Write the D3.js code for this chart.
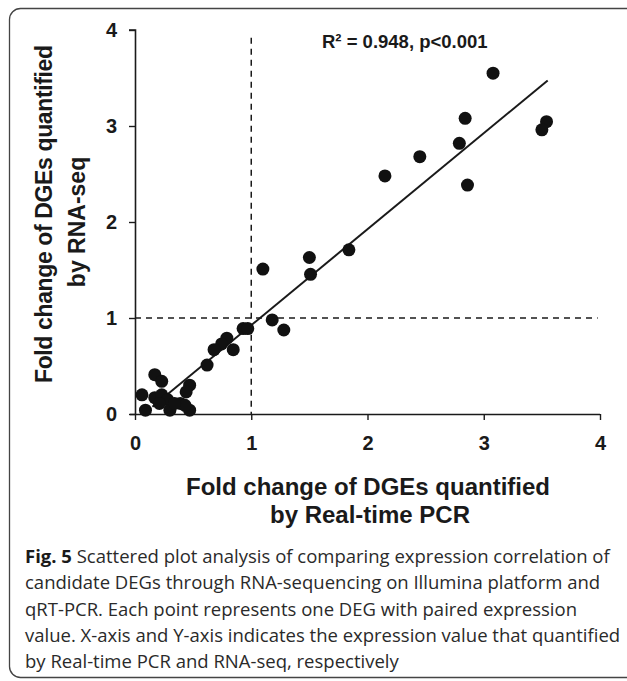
<!DOCTYPE html>
<html>
<head>
<meta charset="utf-8">
<script src="https://cdn.jsdelivr.net/npm/d3@7"></script>
<style>
  body { margin: 0; background: #fff; }
  svg { display: block; }
</style>
</head>
<body>
<svg id="chart" width="627" height="681"></svg>
<script>
// qRT-PCR fold change (x) vs RNA-seq fold change (y)
let pcrValues = [3.08, 2.84, 2.79, 2.45, 2.15, 2.86, 3.54, 3.50,
                 1.10, 1.50, 1.51, 1.84, 1.18, 1.28, 0.93, 0.97,
                 0.79, 0.745, 0.845, 0.68, 0.62,
                 0.47, 0.44, 0.17, 0.23, 0.06, 0.09, 0.17, 0.23, 0.28, 0.30,
                 0.39, 0.47, 0.43, 0.21, 0.34]
let seqValues = [3.55, 3.08, 2.82, 2.68, 2.48, 2.385, 3.045, 2.96,
                 1.51, 1.63, 1.455, 1.71, 0.98, 0.875, 0.89, 0.89,
                 0.79, 0.73, 0.67, 0.67, 0.51,
                 0.30, 0.23, 0.41, 0.34, 0.20, 0.04, 0.17, 0.20, 0.15, 0.04,
                 0.11, 0.04, 0.09, 0.11, 0.11]

let tickValues = [0, 1, 2, 3, 4]
let fitSlope = 1.0
let fitIntercept = -0.075
let fitRange = [0.15, 3.55]
let cutoff = 1

let statLabel = "R\u00B2 = 0.948,  p<0.001"
let xTitle = ["Fold change of DGEs quantified", "by Real-time PCR"]
let yTitle = ["Fold change of DGEs quantified", "by RNA-seq"]
let captionBold = "Fig. 5"
let captionLines = [
    " Scattered plot analysis of comparing expression correlation of",
    "candidate DEGs through RNA-sequencing on Illumina platform and",
    "qRT-PCR. Each point represents one DEG with paired expression",
    "value. X-axis and Y-axis indicates the expression value that quantified",
    "by Real-time PCR and RNA-seq, respectively"
]

let svg = d3.select("#chart")
let ink = "#1a1a1a"

// panel frame, right side runs off the page
svg.append("rect")
    .attr("x", 9.5).attr("y", 8.5)
    .attr("width", 660).attr("height", 669)
    .attr("rx", 11)
    .attr("fill", "none")
    .attr("stroke", "#444")
    .attr("stroke-width", 1.3)

let x = d3.scaleLinear().domain([0, 4]).range([135, 600])
let y = d3.scaleLinear().domain([0, 4]).range([414, 30])

// axes
let xAxis = svg.append("g")
    .attr("transform", "translate(0," + y(0) + ")")
    .call(d3.axisBottom(x).tickValues(tickValues).tickFormat(d3.format("d"))
        .tickSize(6).tickPadding(16).tickSizeOuter(0))
let yAxis = svg.append("g")
    .attr("transform", "translate(" + x(0) + ",0)")
    .call(d3.axisLeft(y).tickValues(tickValues).tickFormat(d3.format("d"))
        .tickSize(6).tickPadding(12).tickSizeOuter(0))

for (let ax of [xAxis, yAxis]) {
    ax.select(".domain").attr("stroke", ink).attr("stroke-width", 1.6)
    ax.selectAll(".tick line").attr("stroke", ink).attr("stroke-width", 1.4)
    ax.selectAll(".tick text")
        .attr("fill", ink)
        .style("font-family", "'Liberation Sans', Arial, sans-serif")
        .style("font-weight", "bold")
        .style("font-size", "20px")
}
// x axis line starts a little left of the origin
xAxis.select(".domain").attr("d", "M" + (x(0) - 5) + ",0.5H" + x(4))
yAxis.select(".domain").attr("d", "M-6," + y(4) + "H0.5V" + y(0))

// cutoff guides
svg.append("line")
    .attr("x1", x(cutoff)).attr("x2", x(cutoff))
    .attr("y1", y(3.92)).attr("y2", y(0))
    .attr("stroke", ink).attr("stroke-width", 1.5)
    .attr("stroke-dasharray", "6,5")
svg.append("line")
    .attr("x1", x(0)).attr("x2", x(3.98))
    .attr("y1", y(cutoff)).attr("y2", y(cutoff))
    .attr("stroke", ink).attr("stroke-width", 1.5)
    .attr("stroke-dasharray", "6,5")

// fitted line
svg.append("line")
    .attr("x1", x(fitRange[0])).attr("y1", y(fitSlope * fitRange[0] + fitIntercept))
    .attr("x2", x(fitRange[1])).attr("y2", y(fitSlope * fitRange[1] + fitIntercept))
    .attr("stroke", ink).attr("stroke-width", 2)

// points
svg.append("g")
    .selectAll("circle")
    .data(pcrValues)
    .enter()
    .append("circle")
    .attr("cx", (d) => x(d))
    .attr("cy", (d, i) => y(seqValues[i]))
    .attr("r", 6.5)
    .attr("fill", "#111")

// statistic label
svg.append("text")
    .attr("x", 322).attr("y", 48)
    .attr("fill", ink)
    .style("font-family", "'Liberation Sans', Arial, sans-serif")
    .style("font-weight", "bold")
    .style("font-size", "18.5px")
    .text(statLabel)

// axis titles
let titleFont = "'Liberation Sans', Arial, sans-serif"
svg.append("text")
    .attr("x", 368).attr("y", 495)
    .attr("text-anchor", "middle")
    .attr("fill", ink)
    .style("font-family", titleFont).style("font-weight", "bold").style("font-size", "24px")
    .text(xTitle[0])
svg.append("text")
    .attr("x", 370).attr("y", 523)
    .attr("text-anchor", "middle")
    .attr("fill", ink)
    .style("font-family", titleFont).style("font-weight", "bold").style("font-size", "24px")
    .text(xTitle[1])

svg.append("text")
    .attr("transform", "translate(52,214) rotate(-90)")
    .attr("text-anchor", "middle")
    .attr("fill", ink)
    .style("font-family", titleFont).style("font-weight", "bold").style("font-size", "23px")
    .attr("textLength", 338)
    .text(yTitle[0])
svg.append("text")
    .attr("transform", "translate(85,222) rotate(-90)")
    .attr("text-anchor", "middle")
    .attr("fill", ink)
    .style("font-family", titleFont).style("font-weight", "bold").style("font-size", "23px")
    .text(yTitle[1])

// caption
let caption = svg.append("text")
    .attr("fill", "#2a2a2a")
    .style("font-family", "'Open Sans', sans-serif")
    .style("font-size", "18.5px")
for (let i = 0; i < captionLines.length; i++) {
    let line = caption.append("tspan")
        .attr("x", 25)
        .attr("y", 563 + i * 26.3)
    if (i == 0) {
        line.append("tspan").style("font-weight", "bold").attr("fill", "#1a1a1a").text(captionBold)
        caption.append("tspan").text(captionLines[i])
    } else {
        line.text(captionLines[i])
    }
}
</script>
</body>
</html>
